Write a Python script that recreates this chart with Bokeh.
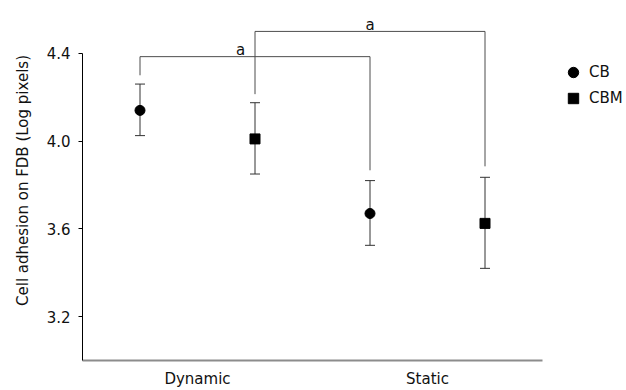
from bokeh.plotting import figure
from bokeh.models import (ColumnDataSource, Whisker, TeeHead, FixedTicker, Legend,
                          LegendItem, Range1d, PrintfTickFormatter)
from bokeh.embed import file_html
from bokeh.resources import INLINE
from bokeh.core.properties import value

# ---- data ----
groups = ["Dynamic", "Static"]
group_pos = [1, 3]
series = ["CB", "CBM"]
series_offset = [-0.5, 0.5]
cb_mean = [4.14, 3.67]
cb_upper = [4.26, 3.82]
cb_lower = [4.025, 3.525]
cbm_mean = [4.01, 3.625]
cbm_upper = [4.175, 3.835]
cbm_lower = [3.85, 3.42]
y_ticks = [3.2, 3.6, 4.0, 4.4]

# significance brackets
sig_series = [0, 1]
sig_top = [4.385, 4.50]
sig_left_end = [4.30, 4.214]
sig_right_end = [3.867, 3.885]
sig_labels = ["a", "a"]
sig_label_shift = [-0.126, 0.0]

FONT = "DejaVu Sans"
TXT = "#111111"
ERR = "#333333"

p = figure(width=626, height=390,
           x_range=Range1d(0, 544 / 115), y_range=Range1d(3.0, 3.0 + 361 / 220),
           output_backend="svg", toolbar_location=None,
           min_border_left=82, min_border_right=0, min_border_top=0, min_border_bottom=29)
p.outline_line_color = None
p.border_fill_color = "white"
p.xgrid.visible = False
p.ygrid.visible = False
p.background_fill_color = "white"

def xs_for(k):
    return [g + series_offset[k] for g in group_pos]

# brackets
b_xs, b_ys = [], []
for i, k in enumerate(sig_series):
    xl = group_pos[0] + series_offset[k]
    xr = group_pos[1] + series_offset[k]
    b_xs.append([xl, xl, xr, xr])
    b_ys.append([sig_left_end[i], sig_top[i], sig_top[i], sig_right_end[i]])
p.multi_line(b_xs, b_ys, line_color="#4d4d4d", line_width=1)

lab_x = [(group_pos[0] + group_pos[1]) / 2 + series_offset[k] + sig_label_shift[i]
         for i, k in enumerate(sig_series)]
lab_y = [t + 0.03 for t in sig_top]
p.text(lab_x, lab_y, text=sig_labels, text_align="center", text_baseline="alphabetic",
       text_font=value(FONT), text_font_size="15px", text_color=TXT)

renderers = []
for k, (m, up, lo, marker) in enumerate([(cb_mean, cb_upper, cb_lower, "circle"),
                                         (cbm_mean, cbm_upper, cbm_lower, "square")]):
    src = ColumnDataSource(dict(x=xs_for(k), y=m, upper=up, lower=lo))
    w = Whisker(source=src, base="x", upper="upper", lower="lower",
                line_color=ERR, line_width=1,
                upper_head=TeeHead(size=10, line_color=ERR, line_width=1),
                lower_head=TeeHead(size=10, line_color=ERR, line_width=1))
    p.add_layout(w)
    r = p.scatter("x", "y", source=src, marker=marker, size=10,
                  fill_color="black", line_color="black")
    renderers.append(r)

legend = Legend(items=[LegendItem(label=series[i], renderers=[renderers[i]]) for i in range(2)],
                location=(476, 249), glyph_width=30, glyph_height=26, spacing=0, padding=0,
                label_standoff=1, label_text_font=FONT, label_text_font_size="15px",
                label_text_color=TXT, border_line_color=None, background_fill_alpha=0)
p.add_layout(legend)

# x axis
xa = p.xaxis[0]
xa.ticker = FixedTicker(ticks=group_pos)
xa.major_label_overrides = {g: n for g, n in zip(group_pos, groups)}
xa.bounds = (0, 4)
xa.axis_line_color = "#8c8c8c"
xa.axis_line_width = 2
xa.major_tick_line_color = None
xa.major_tick_out = 0
xa.major_tick_in = 0
xa.minor_tick_line_color = None
xa.minor_tick_out = 0
xa.major_label_standoff = 9
xa.major_label_text_font = FONT
xa.major_label_text_font_size = "15px"
xa.major_label_text_color = TXT

# y axis
ya = p.yaxis[0]
ya.ticker = FixedTicker(ticks=y_ticks)
ya.formatter = PrintfTickFormatter(format="%.1f")
ya.bounds = (3.0, 4.4)
ya.axis_line_color = "black"
ya.axis_line_width = 1
ya.major_tick_out = 4
ya.major_tick_in = 0
ya.major_tick_line_color = "black"
ya.minor_tick_line_color = None
ya.major_label_standoff = 8
ya.major_label_text_font = FONT
ya.major_label_text_font_size = "15px"
ya.major_label_text_color = TXT
ya.axis_label = "Cell adhesion on FDB (Log pixels)"
ya.axis_label_text_font = FONT
ya.axis_label_text_font_size = "15px"
ya.axis_label_text_font_style = "normal"
ya.axis_label_text_color = TXT
ya.axis_label_standoff = 12

open("out.html", "w").write(file_html(p, INLINE))
